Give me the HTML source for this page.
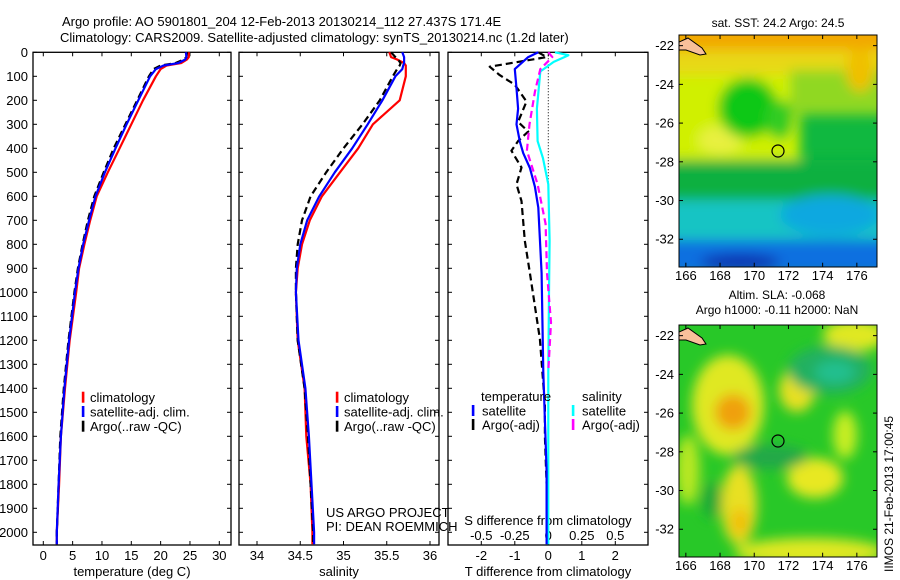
<!DOCTYPE html>
<html><head><meta charset="utf-8"><style>
html,body{margin:0;padding:0;background:#fff;}
svg{display:block;font-family:"Liberation Sans",sans-serif;}
text{font-size:13px;fill:#000;}
</style></head><body>
<svg id="chart" width="900" height="580" viewBox="0 0 900 580" xmlns="http://www.w3.org/2000/svg">
<defs>
<filter id="blur8" x="-50%" y="-50%" width="200%" height="200%"><feGaussianBlur stdDeviation="6"/></filter>
<clipPath id="m1clip"><rect x="679" y="35" width="198" height="232"/></clipPath>
<clipPath id="m2clip"><rect x="679" y="325" width="198" height="232"/></clipPath>
</defs>
<text x="62" y="26">Argo profile: AO 5901801_204 12-Feb-2013 20130214_112 27.437S 171.4E</text>
<text x="60" y="42">Climatology: CARS2009. Satellite-adjusted climatology: synTS_20130214.nc (1.2d later)</text>

<g id="map1">
 <g clip-path="url(#m1clip)">
  <rect x="679" y="35" width="198" height="232" fill="#10b840"/>
  <g filter="url(#blur8)">
   <rect x="660" y="20" width="240" height="32" fill="#f2a800"/>
   <rect x="660" y="50" width="240" height="28" fill="#e8d818"/>
   <rect x="660" y="75" width="140" height="90" fill="#d0f000"/>
   <rect x="790" y="70" width="100" height="45" fill="#90d820"/>
   <ellipse cx="720" cy="140" rx="22" ry="14" fill="#e8f040"/>
   <ellipse cx="748" cy="108" rx="30" ry="30" fill="#10c818"/>
   <ellipse cx="780" cy="120" rx="14" ry="20" fill="#30cc20"/>
   <ellipse cx="860" cy="70" rx="14" ry="22" fill="#f0c000"/>
   <rect x="660" y="160" width="240" height="42" fill="#10b040"/>
   <rect x="660" y="200" width="240" height="42" fill="#14c4c4"/>
   <ellipse cx="830" cy="215" rx="50" ry="20" fill="#10a8e0"/>
   <rect x="660" y="240" width="240" height="35" fill="#1070e0"/>
   <ellipse cx="740" cy="262" rx="40" ry="8" fill="#1030b0"/>
  </g>
  <polygon points="679,42 688,38 702,48 706,54 700,55 686,50 679,50" fill="#f8c09a" stroke="#000" stroke-width="1"/>
 </g>
 <rect x="679" y="35" width="198" height="232" fill="none" stroke="#000" stroke-width="1"/>
 <circle cx="778" cy="151" r="6" fill="none" stroke="#000" stroke-width="1.2"/>
 <text x="778" y="27" text-anchor="middle" style="font-size:12px">sat. SST: 24.2 Argo: 24.5</text>
</g>

<g id="map2">
 <g clip-path="url(#m2clip)">
  <rect x="679" y="325" width="198" height="232" fill="#28c828"/>
  <g filter="url(#blur8)">
   <ellipse cx="728" cy="405" rx="36" ry="50" fill="#e0e820"/>
   <ellipse cx="733" cy="412" rx="18" ry="18" fill="#f0a010"/>
   <ellipse cx="797" cy="390" rx="18" ry="22" fill="#e8e020"/>
   <ellipse cx="845" cy="435" rx="12" ry="24" fill="#c8ee20"/>
   <ellipse cx="739" cy="505" rx="18" ry="40" fill="#e8e020"/>
   <ellipse cx="740" cy="522" rx="10" ry="14" fill="#f0c010"/>
   <ellipse cx="815" cy="478" rx="28" ry="20" fill="#e8e820"/>
   <ellipse cx="810" cy="552" rx="75" ry="14" fill="#e0e820"/>
   <ellipse cx="855" cy="335" rx="32" ry="16" fill="#e0e820"/>
   <ellipse cx="688" cy="470" rx="12" ry="35" fill="#b8e820"/>
   <ellipse cx="830" cy="370" rx="42" ry="24" fill="#20b060"/>
   <ellipse cx="835" cy="372" rx="20" ry="11" fill="#20c090"/>
   <ellipse cx="770" cy="457" rx="38" ry="12" fill="#20a848"/>
   <ellipse cx="712" cy="500" rx="10" ry="18" fill="#1ca838"/>
  </g>
  <polygon points="679,332 688,328 702,338 706,344 700,345 686,340 679,340" fill="#f8c09a" stroke="#000" stroke-width="1"/>
 </g>
 <rect x="679" y="325" width="198" height="232" fill="none" stroke="#000" stroke-width="1"/>
 <circle cx="778" cy="441" r="6" fill="none" stroke="#000" stroke-width="1.2"/>
 <text x="777" y="299" text-anchor="middle" style="font-size:12px">Altim. SLA: -0.068</text>
 <text x="777" y="314" text-anchor="middle" style="font-size:12px">Argo h1000: -0.11 h2000: NaN</text>
</g>
<text transform="translate(893,572) rotate(-90)" style="font-size:12px">IIMOS 21-Feb-2013 17:00:45</text>

<g id="g1"></g>
<script>
// ---- data ----
const depthTicks = [0,100,200,300,400,500,600,700,800,900,1000,1100,1200,1300,1400,1500,1600,1700,1800,1900,2000];
const tempTicks = [0,5,10,15,20,25,30];
const salTicks = [34,34.5,35,35.5,36];
const salTickLabels = ["34","34.5","35","35.5","36"];
const dTTicks = [-2,-1,0,1,2];
const dSTicks = [-0.5,-0.25,0,0.25,0.5];
const dSTickLabels = ["-0.5","-0.25","0","0.25","0.5"];

const profDepth = [0,20,30,45,55,70,100,200,300,400,500,600,700,800,900,1000,1200,1400,1600,1800,2000,2050];
const tempClim = [24.8,24.8,24.5,23.5,21,20,19.2,17,15,13,11,9.1,8,7,6.1,5.6,4.5,3.7,3.0,2.7,2.3,2.3];
const tempSat  = [24.3,24.4,24.2,23,20.5,19.2,18.2,16.2,14.2,12.3,10.5,8.9,7.8,6.8,6.0,5.4,4.4,3.6,3.0,2.6,2.3,2.3];
const tempArgo = [24.5,24.4,24,22.5,20,18.8,18,16,14,12,10.3,8.7,7.6,6.7,5.9,5.3,4.3,3.5,2.9,2.6,2.3,2.3];
const salClim  = [35.53,35.55,35.62,35.7,35.72,35.72,35.72,35.65,35.34,35.17,34.96,34.75,34.61,34.52,34.47,34.45,34.47,34.55,34.57,34.62,34.64,34.64];
const salSat   = [35.68,35.7,35.7,35.7,35.69,35.68,35.6,35.45,35.28,35.1,34.9,34.72,34.58,34.5,34.46,34.45,34.48,34.56,34.6,34.63,34.66,34.66];
const salArgo  = [35.55,35.6,35.63,35.66,35.65,35.62,35.57,35.42,35.22,35.0,34.8,34.62,34.52,34.47,34.45,34.45,34.47,34.55,34.59,34.62,34.65,34.65];

const dTDepth = [0,20,70,150,235,300,371,420,482,560,647,920,1332,1744,2050];
const dTSat   = [-0.3,-0.6,-1.0,-0.95,-0.9,-0.95,-0.85,-0.75,-0.55,-0.4,-0.3,-0.2,-0.15,-0.05,-0.05];
const dTArgoDepth = [0,20,60,95,135,205,290,330,370,410,480,550,620,785,920,1195,1470,1600,1800,2050];
const dTArgo  = [-0.3,-0.05,-1.75,-1.45,-1.0,-0.65,-0.9,-0.6,-0.9,-1.1,-0.8,-0.95,-0.8,-0.7,-0.55,-0.25,-0.1,-0.1,-0.05,-0.05];
const dSDepth = [0,12,20,40,80,235,370,440,550,785,1000,1330,1700,2050];
const dSSat   = [0.05,0.15,0.12,0.04,-0.06,-0.085,-0.08,-0.04,0,0.01,0.005,0,0,0];
const dSArgoDepth = [0,20,70,165,300,410,550,715,920,1125,1330];
const dSArgo  = [0.0,0.03,-0.06,-0.1,-0.14,-0.16,-0.08,-0.02,-0.01,0.02,0];

// ---- layout ----
const NS="http://www.w3.org/2000/svg";
const g=document.getElementById('g1');
const top0=52.3, pxPer100=24;
const yD = d => top0 + d*pxPer100/100;
const panels = [
 {x0:33,x1:231,name:'temperature-panel', xs:v=>43.3+v*(219.3-43.3)/30},
 {x0:239,x1:439,name:'salinity-panel', xs:v=>257+(v-34)*86.5},
 {x0:448,x1:648,name:'difference-panel', xs:v=>548.3+v*33.5}
];
const xS = v=>548.3+v*134;
const bottom=545;
function mk(tag,attrs,parent){const e=document.createElementNS(NS,tag);for(const k in attrs)e.setAttribute(k,attrs[k]);(parent||g).appendChild(e);return e;}
function txt(x,y,s,anchor,name){const t=mk('text',{x:x,y:y,'text-anchor':anchor||'start'});t.textContent=s;


return t;}
function line(xs,ds,vals,col,dash,name){
 const pts=vals.map((v,i)=>xs(v).toFixed(1)+','+yD(ds[i]).toFixed(1)).join(' ');
 const p=mk('polyline',{points:pts,fill:'none',stroke:col,'stroke-width':2.2,'stroke-dasharray':dash||'none','stroke-linejoin':'round'});
 
 
}
panels.forEach((P,pi)=>{
 const r=mk('rect',{x:P.x0,y:top0,width:P.x1-P.x0,height:bottom-top0,fill:'none',stroke:'#000','stroke-width':1.3});
 
 
 depthTicks.forEach(d=>{const y=yD(d);
  mk('line',{x1:P.x0,x2:P.x0+4,y1:y,y2:y,stroke:'#000'});
  mk('line',{x1:P.x1,x2:P.x1-4,y1:y,y2:y,stroke:'#000'});
 });
});
depthTicks.forEach(d=>txt(28,yD(d)+4.5,String(d),'end','depth-tick-label'));
tempTicks.forEach(v=>{const x=panels[0].xs(v);mk('line',{x1:x,x2:x,y1:bottom,y2:bottom-4,stroke:'#000'});mk('line',{x1:x,x2:x,y1:top0,y2:top0+4,stroke:'#000'});txt(x,560,String(v),'middle','temperature-tick-label');});
salTicks.forEach((v,i)=>{const x=panels[1].xs(v);mk('line',{x1:x,x2:x,y1:bottom,y2:bottom-4,stroke:'#000'});mk('line',{x1:x,x2:x,y1:top0,y2:top0+4,stroke:'#000'});txt(x,560,salTickLabels[i],'middle','salinity-tick-label');});
dTTicks.forEach(v=>{const x=panels[2].xs(v);mk('line',{x1:x,x2:x,y1:bottom,y2:bottom-4,stroke:'#000'});mk('line',{x1:x,x2:x,y1:top0,y2:top0+4,stroke:'#000'});txt(x,560,String(v),'middle','t-diff-tick-label');});
dSTicks.forEach((v,i)=>txt(xS(v),540,dSTickLabels[i],'middle','s-diff-tick-label'));
txt(132,576,'temperature (deg C)','middle','temperature-axis-title');
txt(339,576,'salinity','middle','salinity-axis-title');
txt(548,576,'T difference from climatology','middle','t-diff-axis-title');
txt(548,525,'S difference from climatology','middle','s-diff-axis-title');
txt(326,517,'US ARGO PROJECT','start','project-label');
txt(326,531,'PI: DEAN ROEMMICH','start','pi-label');

const z=mk('line',{x1:panels[2].xs(0),x2:panels[2].xs(0),y1:top0,y2:190,stroke:'#000','stroke-width':1,'stroke-dasharray':'1,2'});



line(panels[0].xs,profDepth,tempClim,'#ff0000',null,'temp-climatology-line');
line(panels[0].xs,profDepth,tempArgo,'#000',"7,4",'temp-argo-line');
line(panels[0].xs,profDepth,tempSat,'#0000ff',null,'temp-satellite-line');
line(panels[1].xs,profDepth,salClim,'#ff0000',null,'sal-climatology-line');
line(panels[1].xs,profDepth,salArgo,'#000',"7,4",'sal-argo-line');
line(panels[1].xs,profDepth,salSat,'#0000ff',null,'sal-satellite-line');
line(panels[2].xs,dTArgoDepth,dTArgo,'#000',"7,4",'t-diff-argo-line');
line(xS,dSDepth,dSSat,'#00ffff',null,'s-diff-satellite-line');
line(xS,dSArgoDepth,dSArgo,'#ff00ff',"7,4",'s-diff-argo-line');
line(panels[2].xs,dTDepth,dTSat,'#0000ff',null,'t-diff-satellite-line');

function legend(mx,tx,y,col,label,name){
 const b=mk('rect',{x:mx-1.2,y:y-6,width:2.6,height:11,fill:col});
 
 
 txt(tx,y+4.5,label,'start',name+'-label');
}
[[0,83,90],[1,337,344]].forEach(([pi,mx,tx])=>{
 legend(mx,tx,397.7,'#ff0000','climatology','legend-climatology');
 legend(mx,tx,412,'#0000ff','satellite-adj. clim.','legend-satellite');
 legend(mx,tx,426.7,'#000','Argo(..raw -QC)','legend-argo');
});
txt(481,401,'temperature','start','legend-temperature-heading');
txt(582,401,'salinity','start','legend-salinity-heading');
legend(473,482,411,'#0000ff','satellite','legend-t-satellite');
legend(473,482,425,'#000','Argo(-adj)','legend-t-argo');
legend(573,582,411,'#00ffff','satellite','legend-s-satellite');
legend(573,582,425,'#ff00ff','Argo(-adj)','legend-s-argo');

const lonTicks=[166,168,170,172,174,176];
const latTicks=[-22,-24,-26,-28,-30,-32];
const lonX=l=>679+(l-165.6)*17.1;
[[35,280],[325,570]].forEach(([mt,ly])=>{
 const mb=mt+231.7;
 const latY=l=>mt+(-21.45-l)*19.36;
 lonTicks.forEach(l=>{const x=lonX(l);mk('line',{x1:x,x2:x,y1:mb,y2:mb-4,stroke:'#000'});mk('line',{x1:x,x2:x,y1:mt,y2:mt+4,stroke:'#000'});txt(x,ly,String(l),'middle','longitude-tick-label');});
 latTicks.forEach(l=>{const y=latY(l);mk('line',{x1:679,x2:683,y1:y,y2:y,stroke:'#000'});mk('line',{x1:877,x2:873,y1:y,y2:y,stroke:'#000'});txt(674,y+4.5,String(l),'end','latitude-tick-label');});
});
</script>
</svg>
</body></html>
